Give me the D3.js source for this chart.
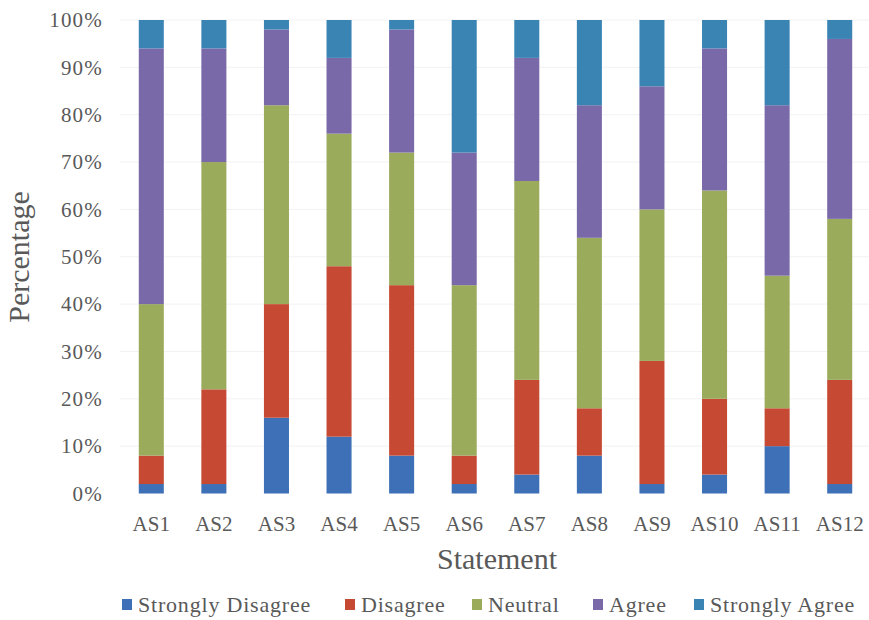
<!DOCTYPE html>
<html>
<head>
<meta charset="utf-8">
<script src="https://cdn.jsdelivr.net/npm/d3@7"></script>
</head>
<body style="margin:0">
<svg id="chart" width="869" height="620"></svg>
<script>
// Survey statements and response shares (percent of respondents)
const statements = ["AS1","AS2","AS3","AS4","AS5","AS6","AS7","AS8","AS9","AS10","AS11","AS12"];
const responseLevels = ["Strongly Disagree","Disagree","Neutral","Agree","Strongly Agree"];
const stronglyDisagree = [2, 2, 16, 12, 8, 2, 4, 8, 2, 4, 10, 2];
const disagree         = [6, 20, 24, 36, 36, 6, 20, 10, 26, 16, 8, 22];
const neutral          = [32, 48, 42, 28, 28, 36, 42, 36, 32, 44, 28, 34];
const agree            = [54, 24, 16, 16, 26, 28, 26, 28, 26, 30, 36, 38];
const stronglyAgree    = [6, 6, 2, 8, 2, 28, 8, 18, 14, 6, 18, 4];
const yTicks = [0, 10, 20, 30, 40, 50, 60, 70, 80, 90, 100];
const levelColors = ["#3d70b6", "#c64a33", "#9aab5c", "#7a69a9", "#3a84b4"];

const FONT = "'Liberation Serif'";
const TEXT_COLOR = "#595959";

const seriesValues = [stronglyDisagree, disagree, neutral, agree, stronglyAgree];
const rows = statements.map((s, i) => {
  const row = { statement: s };
  responseLevels.forEach((lvl, j) => { row[lvl] = seriesValues[j][i]; });
  return row;
});

const svg = d3.select("#chart");
const margin = { left: 120, right: -2, top: 20, bottom: 126.5 };
const W = 869, H = 620;

const x = d3.scaleBand()
  .domain(statements)
  .range([margin.left, W - margin.right])
  .paddingInner(0.6)
  .paddingOuter(0.3);

const y = d3.scaleLinear()
  .domain([0, 100])
  .range([H - margin.bottom, margin.top]);

const color = d3.scaleOrdinal().domain(responseLevels).range(levelColors);

// faint horizontal gridlines
svg.append("g")
  .selectAll("line")
  .data(yTicks.filter(t => t > 0))
  .join("line")
  .attr("x1", margin.left)
  .attr("x2", W)
  .attr("y1", d => y(d))
  .attr("y2", d => y(d))
  .attr("stroke", "#f2f2f2")
  .attr("stroke-width", 1);

// stacked bars
const stacked = d3.stack().keys(responseLevels)(rows);
svg.append("g")
  .selectAll("g")
  .data(stacked)
  .join("g")
  .attr("fill", d => color(d.key))
  .selectAll("rect")
  .data(d => d)
  .join("rect")
  .attr("x", d => x(d.data.statement))
  .attr("width", x.bandwidth())
  .attr("y", d => y(d[1]))
  .attr("height", d => y(d[0]) - y(d[1]));

// y axis
const yAxis = svg.append("g")
  .attr("transform", `translate(${margin.left},0)`)
  .call(d3.axisLeft(y).tickValues(yTicks).tickFormat(d => d + "%").tickSize(0).tickPadding(17))
  .attr("font-family", FONT)
  .attr("font-size", 21);
yAxis.select(".domain").remove();
yAxis.selectAll("text")
  .attr("font-family", FONT)
  .attr("font-size", 21)
  .attr("letter-spacing", 1.2)
  .attr("fill", TEXT_COLOR);

// x axis
const xAxis = svg.append("g")
  .attr("transform", `translate(0,${y(0)})`)
  .call(d3.axisBottom(x).tickSize(0).tickPadding(23))
  .attr("font-family", FONT)
  .attr("font-size", 21);
xAxis.select(".domain").remove();
xAxis.selectAll("text")
  .attr("font-family", FONT)
  .attr("font-size", 21)
  .attr("fill", TEXT_COLOR);

// axis titles
svg.append("text")
  .attr("x", 497)
  .attr("y", 569)
  .attr("text-anchor", "middle")
  .attr("font-family", FONT)
  .attr("font-size", 30)
  .attr("fill", TEXT_COLOR)
  .text("Statement");

svg.append("text")
  .attr("transform", "translate(29,257) rotate(-90)")
  .attr("text-anchor", "middle")
  .attr("font-family", FONT)
  .attr("font-size", 30)
  .attr("fill", TEXT_COLOR)
  .text("Percentage");

// legend
const legendX = [122, 345, 472, 593, 694];
const legend = svg.append("g")
  .selectAll("g")
  .data(responseLevels)
  .join("g")
  .attr("transform", (d, i) => `translate(${legendX[i]},605)`);
legend.append("rect")
  .attr("x", 0)
  .attr("y", -6)
  .attr("width", 10)
  .attr("height", 11)
  .attr("fill", d => color(d));
legend.append("text")
  .attr("x", 16)
  .attr("y", 7)
  .attr("font-family", FONT)
  .attr("font-size", 22)
  .attr("letter-spacing", 0.8)
  .attr("fill", TEXT_COLOR)
  .text(d => d);
</script>
</body>
</html>
